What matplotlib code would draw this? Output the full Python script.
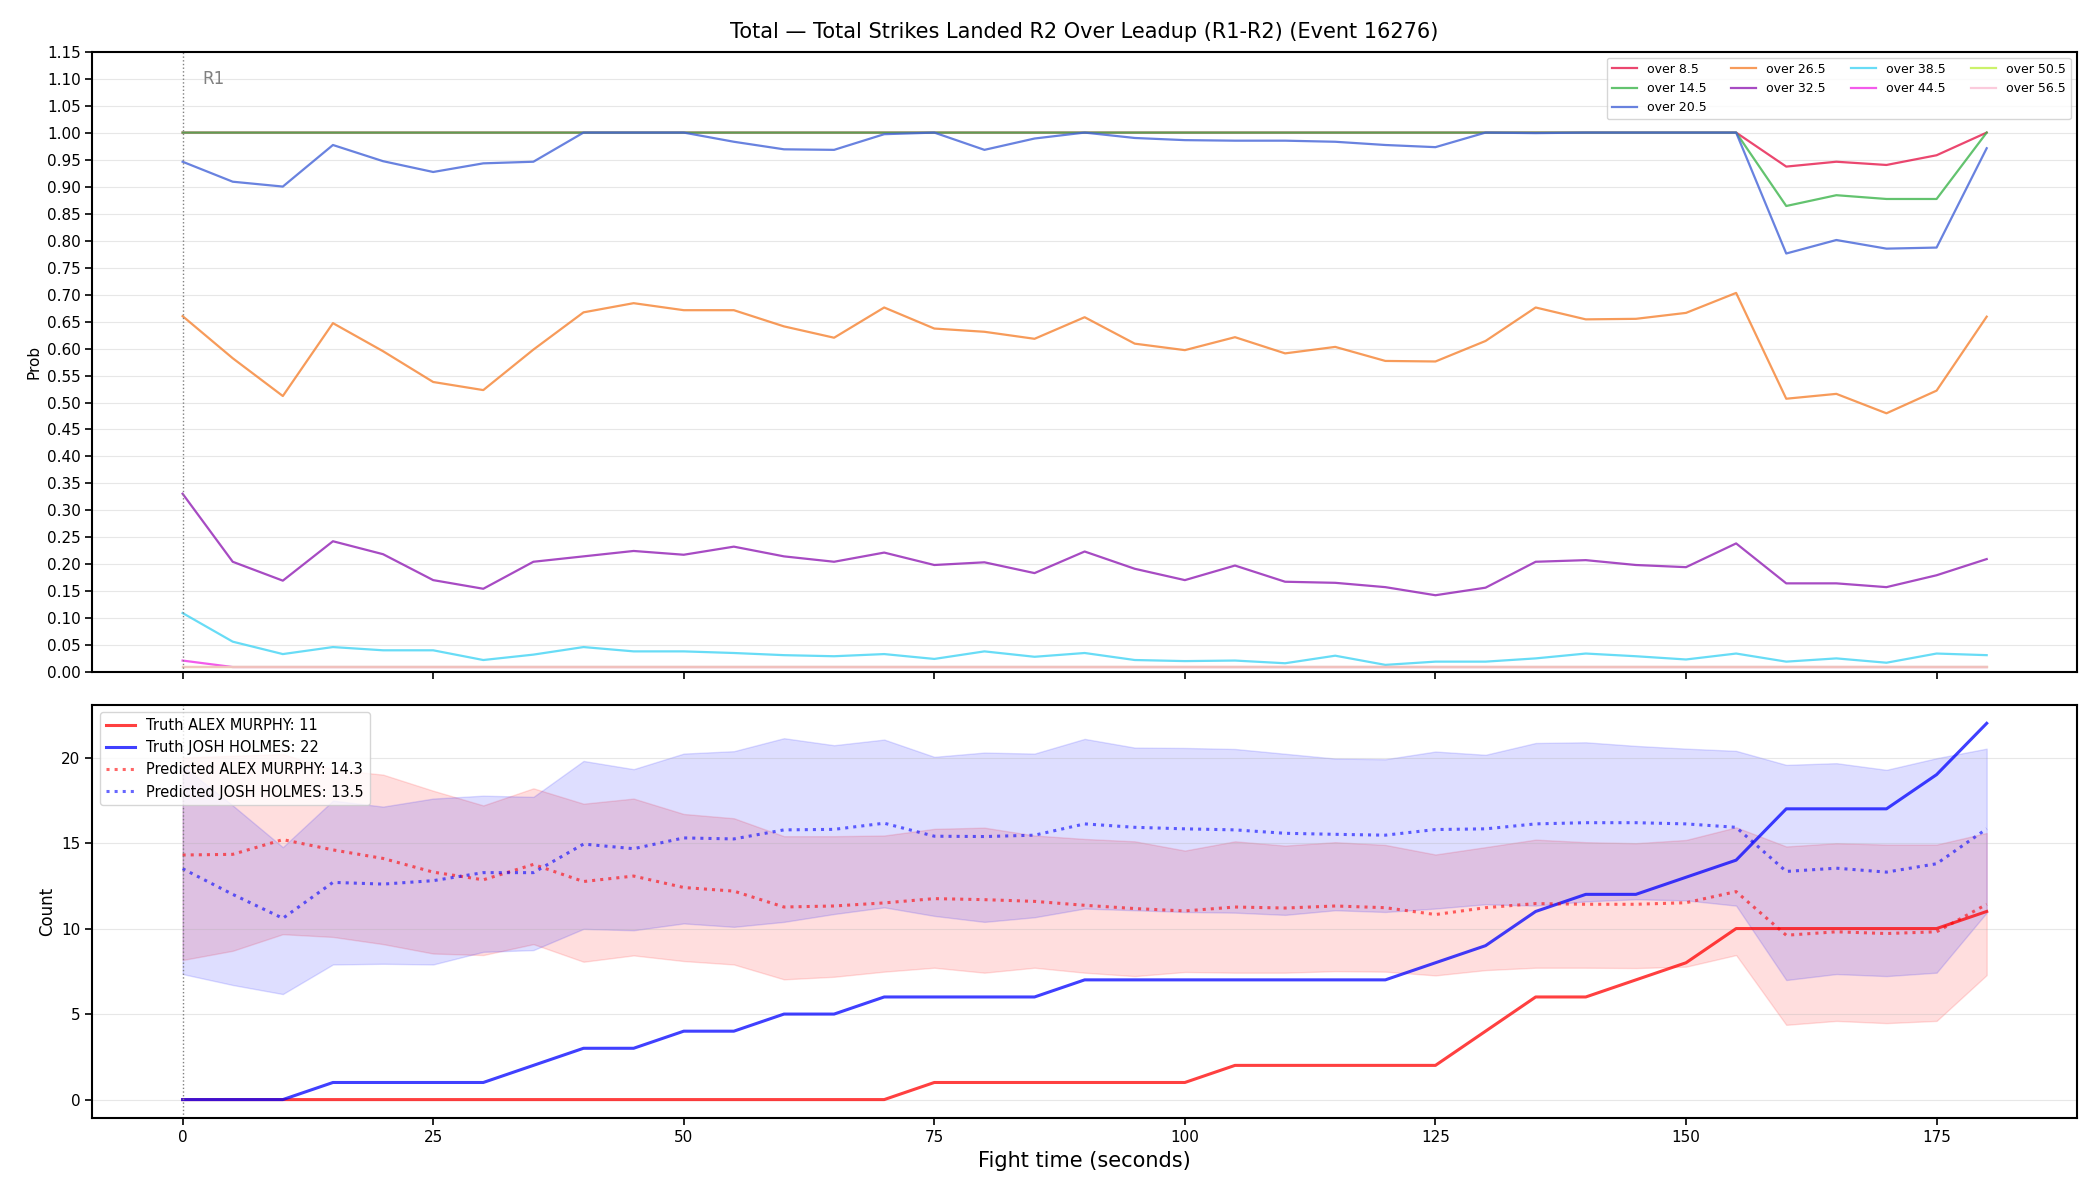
"""
Leadup plot for total strikes landed: threshold probabilities over fight time
on top, truth vs predicted counts per fighter below.
"""

import numpy as np
import matplotlib
matplotlib.use("Agg")
import matplotlib.pyplot as plt

# ------------------------------------------------------------------
# Data
# ------------------------------------------------------------------
TIME = list(range(0, 181, 5))

LINE_LABELS = ["over 8.5", "over 14.5", "over 20.5", "over 26.5", "over 32.5",
               "over 38.5", "over 44.5", "over 50.5", "over 56.5"]
LINE_COLORS = ["#e6194b", "#3cb44b", "#4363d8", "#f58231", "#911eb4",
               "#42d4f4", "#f032e6", "#bfef45", "#fabed4"]

over_8_5 = [1.0] * 32 + [0.937, 0.946, 0.940, 0.958, 1.0]
over_14_5 = [1.0] * 32 + [0.864, 0.884, 0.877, 0.877, 1.0]
over_20_5 = [0.946, 0.909, 0.900, 0.977, 0.947, 0.927, 0.943, 0.946, 1.0, 1.0,
             1.0, 0.983, 0.969, 0.968, 0.997, 1.0, 0.968, 0.989, 1.0, 0.990,
             0.986, 0.985, 0.985, 0.983, 0.977, 0.973, 1.0, 0.999, 1.0, 1.0,
             1.0, 1.0, 0.776, 0.801, 0.785, 0.787, 0.971]
over_26_5 = [0.660, 0.582, 0.512, 0.647, 0.595, 0.538, 0.523, 0.598, 0.667, 0.684,
             0.671, 0.671, 0.641, 0.620, 0.676, 0.637, 0.631, 0.618, 0.658, 0.609,
             0.597, 0.621, 0.591, 0.603, 0.577, 0.576, 0.614, 0.676, 0.654, 0.655,
             0.666, 0.703, 0.507, 0.516, 0.480, 0.522, 0.659]
over_32_5 = [0.331, 0.205, 0.170, 0.243, 0.219, 0.171, 0.155, 0.205, 0.215, 0.225,
             0.218, 0.233, 0.215, 0.205, 0.222, 0.199, 0.204, 0.184, 0.224, 0.192,
             0.171, 0.198, 0.168, 0.166, 0.158, 0.143, 0.157, 0.205, 0.208, 0.199,
             0.195, 0.239, 0.165, 0.165, 0.158, 0.180, 0.210]
over_38_5 = [0.110, 0.057, 0.034, 0.047, 0.041, 0.041, 0.023, 0.033, 0.047, 0.039,
             0.039, 0.036, 0.032, 0.030, 0.034, 0.025, 0.039, 0.029, 0.036, 0.023,
             0.021, 0.022, 0.017, 0.031, 0.014, 0.020, 0.020, 0.026, 0.035, 0.030,
             0.024, 0.035, 0.020, 0.026, 0.018, 0.035, 0.032]
over_44_5 = [0.022] + [0.01] * 36
over_50_5 = [0.01] * 37
over_56_5 = [0.01] * 37

FIGHTER_A = "ALEX MURPHY"
FIGHTER_B = "JOSH HOLMES"

truth_a = [0, 0, 0, 0, 0, 0, 0, 0, 0, 0, 0, 0, 0, 0, 0, 1, 1, 1, 1, 1,
           1, 2, 2, 2, 2, 2, 4, 6, 6, 7, 8, 10, 10, 10, 10, 10, 11]
truth_b = [0, 0, 0, 1, 1, 1, 1, 2, 3, 3, 4, 4, 5, 5, 6, 6, 6, 6, 7, 7,
           7, 7, 7, 7, 7, 8, 9, 11, 12, 12, 13, 14, 17, 17, 17, 19, 22]

pred_a = [14.3, 14.34, 15.2, 14.6, 14.1, 13.3, 12.85, 13.75, 12.75, 13.07,
          12.4, 12.19, 11.26, 11.32, 11.5, 11.75, 11.69, 11.59, 11.36, 11.17,
          11.03, 11.26, 11.2, 11.32, 11.22, 10.82, 11.22, 11.46, 11.42, 11.42,
          11.51, 12.16, 9.61, 9.81, 9.71, 9.81, 11.42]
pred_b = [13.5, 12.0, 10.6, 12.7, 12.6, 12.8, 13.27, 13.27, 14.94, 14.67,
          15.3, 15.24, 15.77, 15.8, 16.16, 15.4, 15.38, 15.46, 16.12, 15.92,
          15.83, 15.77, 15.57, 15.51, 15.46, 15.79, 15.83, 16.12, 16.19, 16.19,
          16.12, 15.92, 13.34, 13.53, 13.3, 13.79, 15.83]

band_a_lo = [8.16, 8.7, 9.67, 9.51, 9.09, 8.54, 8.45, 9.09, 8.06, 8.43,
             8.1, 7.9, 7.03, 7.18, 7.48, 7.71, 7.42, 7.71, 7.42, 7.22,
             7.46, 7.42, 7.42, 7.51, 7.48, 7.26, 7.57, 7.71, 7.71, 7.69,
             7.77, 8.45, 4.37, 4.6, 4.47, 4.6, 7.28]
band_a_hi = [20.0, 20.1, 20.2, 19.3, 19.0, 18.06, 17.2, 18.2, 17.3, 17.6,
             16.7, 16.45, 15.4, 15.4, 15.44, 15.83, 15.9, 15.44, 15.24, 15.1,
             14.56, 15.1, 14.85, 15.05, 14.89, 14.33, 14.76, 15.2, 15.05, 14.99,
             15.18, 15.92, 14.8, 14.99, 14.91, 14.91, 15.59]
band_b_lo = [7.34, 6.7, 6.17, 7.9, 7.94, 7.9, 8.64, 8.74, 9.98, 9.9,
             10.3, 10.1, 10.39, 10.85, 11.24, 10.74, 10.39, 10.66, 11.17, 11.07,
             10.97, 10.93, 10.8, 11.07, 10.97, 11.17, 11.42, 11.34, 11.59, 11.71,
             11.65, 11.34, 6.99, 7.34, 7.22, 7.42, 10.93]
band_b_hi = [19.5, 17.2, 14.76, 17.48, 17.13, 17.6, 17.77, 17.7, 19.8, 19.32,
             20.23, 20.37, 21.13, 20.72, 21.05, 20.04, 20.29, 20.23, 21.09, 20.58,
             20.56, 20.5, 20.22, 19.94, 19.9, 20.35, 20.16, 20.85, 20.89, 20.68,
             20.52, 20.39, 19.57, 19.67, 19.28, 19.96, 20.52]

TITLE = "Total \u2014 Total Strikes Landed R2 Over Leadup (R1-R2) (Event 16276)"


def main():
    t = np.array(TIME)
    probs = [over_8_5, over_14_5, over_20_5, over_26_5, over_32_5,
             over_38_5, over_44_5, over_50_5, over_56_5]

    fig, (ax_top, ax_bot) = plt.subplots(
        2, 1, figsize=(21, 12), dpi=100, sharex=True,
        gridspec_kw={"height_ratios": [3, 2]},
    )
    fig.subplots_adjust(left=0.044, right=0.989, top=0.957, bottom=0.068, hspace=0.062)

    # --- top: threshold probabilities ---
    for label, color, vals in zip(LINE_LABELS, LINE_COLORS, probs):
        ax_top.plot(t, vals, color=color, alpha=0.8, linewidth=1.6, label=label)

    ax_top.axvline(0, color="gray", linestyle=":", linewidth=1.0)
    ax_top.text(2, 1.10, "R1", color="gray", fontsize=12, va="center", ha="left")
    ax_top.set_ylim(0, 1.15)
    ax_top.set_yticks(np.arange(0, 1.151, 0.05))
    ax_top.set_ylabel("Prob", fontsize=11)
    ax_top.set_title(TITLE, fontsize=15, pad=10)
    ax_top.grid(axis="y", alpha=0.3)
    ax_top.legend(loc="upper right", ncol=4, fontsize=9, framealpha=0.8)

    # --- bottom: truth vs predicted counts ---
    ax_bot.fill_between(t, band_a_lo, band_a_hi, color="red", alpha=0.13)
    ax_bot.fill_between(t, band_b_lo, band_b_hi, color="blue", alpha=0.13)
    ax_bot.plot(t, truth_a, color="red", alpha=0.75, linewidth=2.2,
                label=f"Truth {FIGHTER_A}: {truth_a[-1]}")
    ax_bot.plot(t, truth_b, color="blue", alpha=0.75, linewidth=2.2,
                label=f"Truth {FIGHTER_B}: {truth_b[-1]}")
    ax_bot.plot(t, pred_a, color="red", alpha=0.6, linewidth=2.2, linestyle=":",
                label=f"Predicted {FIGHTER_A}: {pred_a[0]:.1f}")
    ax_bot.plot(t, pred_b, color="blue", alpha=0.6, linewidth=2.2, linestyle=":",
                label=f"Predicted {FIGHTER_B}: {pred_b[0]:.1f}")

    ax_bot.axvline(0, color="gray", linestyle=":", linewidth=1.0)
    ax_bot.set_ylabel("Count", fontsize=12)
    ax_bot.set_xlabel("Fight time (seconds)", fontsize=15)
    ax_bot.grid(axis="y", alpha=0.3)
    ax_bot.legend(loc="upper left", fontsize=10.5, framealpha=0.8)

    for ax in (ax_top, ax_bot):
        ax.tick_params(labelsize=11, length=5, width=1.2)
        for sp in ax.spines.values():
            sp.set_linewidth(1.5)

    fig.savefig("out.png", dpi=100)
    plt.close(fig)


if __name__ == "__main__":
    main()
